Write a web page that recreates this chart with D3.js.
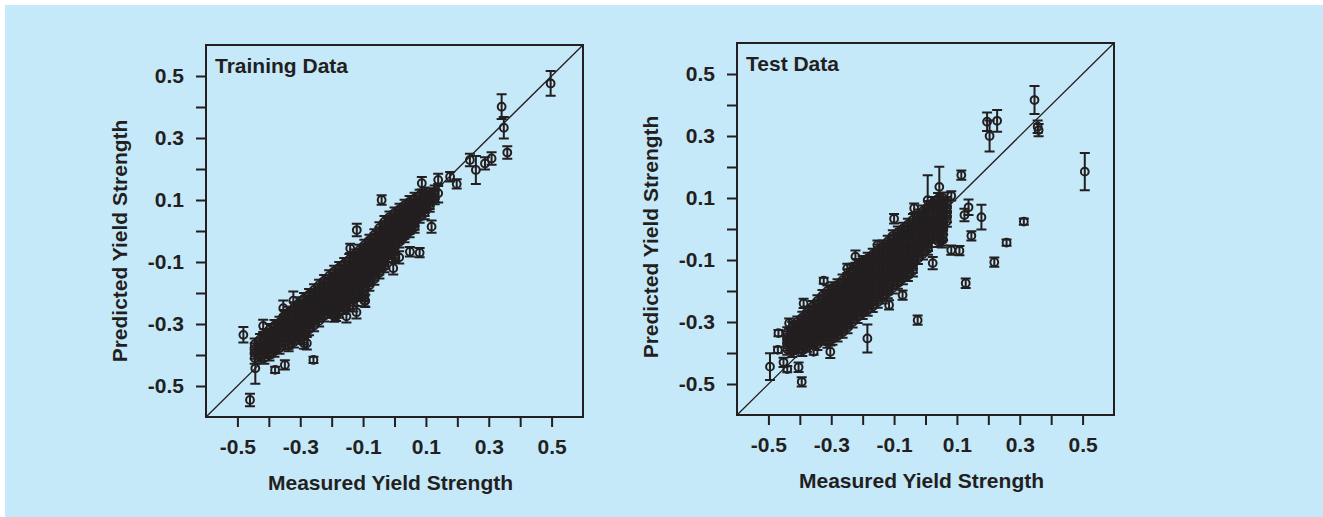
<!DOCTYPE html>
<html><head><meta charset="utf-8">
<script src="https://cdn.jsdelivr.net/npm/d3@7"></script>
<style>html,body{margin:0;padding:0;background:#fff;}svg{display:block;}</style>
</head><body>
<svg id="chart" width="1323" height="517"></svg>
<script>
// ---------------- data ----------------
const panelTitles = ["Training Data", "Test Data"];
const xAxisTitle = "Measured Yield Strength";
const yAxisTitle = "Predicted Yield Strength";
const axisDomain = [-0.6, 0.6];
const tickValues = [-0.5,-0.4,-0.3,-0.2,-0.1,0,0.1,0.2,0.3,0.4,0.5];
const labeledTicks = [-0.5,-0.3,-0.1,0.1,0.3,0.5];
const tickLabels = ["-0.5","-0.3","-0.1","0.1","0.3","0.5"];

// dense cloud, read column by column: [measured, error, [predicted values]]
const trainCloud = [
[-0.445,0.018,[-0.365,-0.38,-0.394,-0.41]],
[-0.428,0.018,[-0.35,-0.364,-0.378,-0.391,-0.404]],
[-0.414,0.018,[-0.335,-0.349,-0.364,-0.378,-0.392,-0.41]],
[-0.398,0.018,[-0.318,-0.333,-0.347,-0.361,-0.375,-0.39,-0.40]],
[-0.382,0.018,[-0.305,-0.319,-0.333,-0.347,-0.361,-0.375,-0.388]],
[-0.366,0.018,[-0.295,-0.308,-0.322,-0.336,-0.350,-0.364,-0.378]],
[-0.352,0.02,[-0.275,-0.290,-0.304,-0.318,-0.333,-0.347,-0.362]],
[-0.337,0.018,[-0.262,-0.276,-0.290,-0.305,-0.319,-0.333,-0.348,-0.362,-0.370]],
[-0.320,0.018,[-0.248,-0.262,-0.276,-0.290,-0.305,-0.319,-0.333,-0.346,-0.358]],
[-0.304,0.018,[-0.232,-0.247,-0.261,-0.275,-0.289,-0.303,-0.318,-0.332,-0.345]],
[-0.288,0.018,[-0.218,-0.232,-0.246,-0.260,-0.275,-0.289,-0.303,-0.318,-0.333,-0.348,-0.362]],
[-0.272,0.018,[-0.205,-0.219,-0.233,-0.247,-0.262,-0.276,-0.290,-0.304,-0.318]],
[-0.256,0.018,[-0.190,-0.204,-0.218,-0.233,-0.247,-0.261,-0.276,-0.290,-0.305]],
[-0.240,0.018,[-0.175,-0.189,-0.204,-0.218,-0.232,-0.246,-0.261,-0.275,-0.290]],
[-0.224,0.018,[-0.160,-0.174,-0.188,-0.203,-0.217,-0.231,-0.246,-0.260,-0.274]],
[-0.208,0.018,[-0.145,-0.160,-0.174,-0.188,-0.203,-0.217,-0.232,-0.247,-0.262]],
[-0.192,0.018,[-0.130,-0.145,-0.159,-0.173,-0.188,-0.203,-0.218,-0.233,-0.248,-0.262,-0.275]],
[-0.176,0.018,[-0.118,-0.132,-0.146,-0.160,-0.175,-0.190,-0.204,-0.218,-0.233,-0.248,-0.262]],
[-0.160,0.018,[-0.105,-0.119,-0.133,-0.148,-0.162,-0.176,-0.191,-0.205,-0.220,-0.235,-0.250]],
[-0.144,0.018,[-0.092,-0.106,-0.120,-0.134,-0.149,-0.163,-0.178,-0.192,-0.207,-0.222,-0.240]],
[-0.128,0.018,[-0.078,-0.092,-0.106,-0.121,-0.135,-0.150,-0.164,-0.178,-0.193,-0.208,-0.222]],
[-0.112,0.018,[-0.062,-0.076,-0.090,-0.105,-0.119,-0.134,-0.148,-0.163,-0.178,-0.193,-0.208]],
[-0.096,0.018,[-0.046,-0.060,-0.074,-0.089,-0.103,-0.118,-0.132,-0.147,-0.162,-0.177,-0.192,-0.208,-0.225]],
[-0.080,0.018,[-0.030,-0.044,-0.058,-0.073,-0.087,-0.102,-0.116,-0.131,-0.146,-0.160,-0.175]],
[-0.064,0.018,[-0.012,-0.026,-0.040,-0.055,-0.070,-0.084,-0.099,-0.113,-0.128,-0.142,-0.155]],
[-0.048,0.018,[0.010,-0.006,-0.022,-0.037,-0.052,-0.066,-0.081,-0.095,-0.110,-0.122,-0.135]],
[-0.032,0.018,[0.030,0.015,0.000,-0.016,-0.032,-0.047,-0.062,-0.077,-0.092,-0.104,-0.115]],
[-0.016,0.018,[0.045,0.031,0.018,0.003,-0.012,-0.027,-0.042,-0.057,-0.072]],
[0.000,0.018,[0.058,0.045,0.032,0.018,0.004,-0.010,-0.025,-0.039,-0.052,-0.068,-0.085]],
[0.016,0.018,[0.070,0.057,0.045,0.031,0.018,0.004,-0.010,-0.022,-0.035]],
[0.032,0.018,[0.083,0.070,0.058,0.045,0.032,0.018,0.005,-0.007,-0.018]],
[0.048,0.018,[0.095,0.082,0.070,0.057,0.045,0.032,0.020,0.008,-0.002]],
[0.064,0.018,[0.105,0.093,0.082,0.070,0.058,0.046,0.034,0.022,0.012]],
[0.080,0.018,[0.115,0.103,0.092,0.080,0.068,0.056,0.045]],
[0.096,0.02,[0.120,0.109,0.098,0.088,0.078,0.068,0.058]],
[0.112,0.018,[0.118,0.108,0.098,0.089,0.080]],
[0.128,0.022,[0.125,0.116,0.108]]
];

// individual points: [measured, predicted, error]
const trainPoints = [
[-0.443,-0.443,0.05],[-0.418,-0.306,0.02],[-0.354,-0.249,0.025],[-0.322,-0.225,0.03],
[-0.279,-0.362,0.02],[-0.186,-0.275,0.015],[-0.153,-0.275,0.02],[-0.131,-0.240,0.02],
[-0.121,-0.262,0.02],[-0.093,-0.225,0.02],[0.015,-0.085,0.02],
[-0.481,-0.335,0.025],[-0.460,-0.545,0.02],[-0.380,-0.448,0.01],[-0.349,-0.432,0.015],
[-0.258,-0.416,0.01],[-0.120,0.003,0.02],[-0.041,0.100,0.015],[-0.141,-0.056,0.015],
[-0.004,-0.120,0.02],[0.049,-0.067,0.015],[0.080,-0.070,0.015],[0.118,0.014,0.02],
[0.087,0.154,0.02],[0.139,0.165,0.02],[0.139,0.122,0.03],[0.177,0.175,0.015],
[0.198,0.152,0.015],[0.240,0.229,0.02],[0.259,0.197,0.045],[0.288,0.218,0.02],
[0.309,0.234,0.02],[0.341,0.401,0.04],[0.348,0.333,0.035],[0.359,0.253,0.02],
[0.497,0.476,0.04]
];

const testCloud = [
[-0.440,0.018,[-0.335,-0.349,-0.362,-0.375,-0.388]],
[-0.424,0.018,[-0.318,-0.332,-0.345,-0.358,-0.372,-0.385,-0.395]],
[-0.408,0.018,[-0.300,-0.314,-0.328,-0.341,-0.355,-0.368,-0.382]],
[-0.392,0.018,[-0.285,-0.299,-0.312,-0.326,-0.340,-0.353,-0.367,-0.380,-0.392]],
[-0.376,0.018,[-0.268,-0.282,-0.296,-0.310,-0.324,-0.338,-0.352,-0.365,-0.378]],
[-0.360,0.018,[-0.250,-0.264,-0.278,-0.292,-0.306,-0.320,-0.334,-0.348,-0.362]],
[-0.344,0.018,[-0.232,-0.246,-0.260,-0.274,-0.288,-0.302,-0.316,-0.330,-0.345,-0.358,-0.372]],
[-0.328,0.018,[-0.215,-0.229,-0.243,-0.257,-0.271,-0.286,-0.300,-0.314,-0.328,-0.342,-0.355]],
[-0.312,0.018,[-0.200,-0.214,-0.228,-0.242,-0.256,-0.270,-0.284,-0.298,-0.312,-0.326,-0.340,-0.352,-0.365]],
[-0.296,0.018,[-0.190,-0.204,-0.218,-0.232,-0.246,-0.260,-0.274,-0.288,-0.302,-0.316,-0.330,-0.343,-0.355]],
[-0.280,0.018,[-0.180,-0.194,-0.207,-0.221,-0.235,-0.249,-0.263,-0.277,-0.291,-0.305,-0.320,-0.333,-0.345]],
[-0.264,0.018,[-0.165,-0.179,-0.193,-0.207,-0.221,-0.235,-0.249,-0.263,-0.277,-0.291,-0.306,-0.320,-0.333]],
[-0.248,0.018,[-0.148,-0.162,-0.176,-0.190,-0.204,-0.218,-0.232,-0.246,-0.260,-0.275,-0.290,-0.304,-0.318]],
[-0.232,0.018,[-0.130,-0.144,-0.158,-0.172,-0.186,-0.200,-0.214,-0.228,-0.242,-0.257,-0.272,-0.286,-0.300]],
[-0.216,0.018,[-0.115,-0.129,-0.143,-0.157,-0.171,-0.185,-0.199,-0.213,-0.227,-0.241,-0.256,-0.270,-0.285]],
[-0.200,0.018,[-0.105,-0.119,-0.133,-0.147,-0.161,-0.175,-0.189,-0.203,-0.217,-0.231,-0.245,-0.258,-0.272]],
[-0.184,0.018,[-0.095,-0.109,-0.123,-0.137,-0.151,-0.165,-0.179,-0.193,-0.207,-0.221,-0.235,-0.248,-0.262]],
[-0.168,0.018,[-0.082,-0.096,-0.110,-0.124,-0.138,-0.152,-0.166,-0.180,-0.194,-0.208,-0.222,-0.236,-0.250]],
[-0.152,0.018,[-0.068,-0.082,-0.096,-0.110,-0.124,-0.138,-0.152,-0.166,-0.180,-0.194,-0.208,-0.222,-0.236]],
[-0.136,0.018,[-0.055,-0.069,-0.083,-0.097,-0.111,-0.125,-0.139,-0.153,-0.167,-0.181,-0.195,-0.209,-0.222]],
[-0.120,0.018,[-0.040,-0.054,-0.068,-0.082,-0.096,-0.110,-0.124,-0.138,-0.152,-0.166,-0.180,-0.193,-0.205]],
[-0.104,0.018,[-0.022,-0.036,-0.050,-0.064,-0.078,-0.092,-0.106,-0.120,-0.134,-0.148,-0.162,-0.176,-0.190]],
[-0.088,0.018,[-0.010,-0.024,-0.038,-0.052,-0.066,-0.080,-0.094,-0.108,-0.122,-0.136,-0.150,-0.163,-0.175]],
[-0.072,0.018,[0.002,-0.012,-0.026,-0.040,-0.054,-0.068,-0.082,-0.096,-0.110,-0.124,-0.138,-0.150,-0.160]],
[-0.056,0.018,[0.015,0.001,-0.013,-0.027,-0.041,-0.055,-0.069,-0.083,-0.097,-0.111,-0.125,-0.138,-0.150]],
[-0.040,0.018,[0.030,0.016,0.002,-0.012,-0.026,-0.040,-0.054,-0.068,-0.082,-0.096,-0.110,-0.123,-0.135]],
[-0.024,0.018,[0.045,0.031,0.017,0.003,-0.011,-0.025,-0.039,-0.053,-0.067,-0.081,-0.095]],
[-0.008,0.018,[0.058,0.044,0.030,0.016,0.002,-0.012,-0.026,-0.040,-0.054,-0.067,-0.080]],
[0.008,0.018,[0.072,0.058,0.044,0.030,0.016,0.002,-0.012,-0.026,-0.040,-0.053,-0.065]],
[0.024,0.018,[0.085,0.071,0.057,0.043,0.030,0.016,0.002,-0.012,-0.025]],
[0.040,0.018,[0.098,0.084,0.070,0.056,0.043,0.030,0.016,0.002,-0.012,-0.026,-0.040]],
[0.056,0.018,[0.100,0.087,0.075,0.062,0.050,0.037,0.025,0.012,0.000,-0.018,-0.035]],
[0.068,0.018,[0.085,0.070,0.055,0.040,0.025]]
];

const testPoints = [
[-0.495,-0.444,0.043],[-0.468,-0.336,0.01],[-0.470,-0.390,0.01],[-0.452,-0.430,0.015],
[-0.440,-0.452,0.01],[-0.434,-0.304,0.015],[-0.404,-0.446,0.015],[-0.394,-0.493,0.015],
[-0.356,-0.396,0.01],[-0.324,-0.167,0.01],[-0.388,-0.240,0.015],[-0.303,-0.396,0.02],
[-0.249,-0.127,0.015],[-0.223,-0.089,0.02],[-0.185,-0.353,0.045],[-0.153,-0.052,0.015],
[-0.116,-0.245,0.015],[-0.100,0.033,0.015],[-0.073,-0.213,0.015],[-0.036,0.067,0.015],
[-0.025,-0.294,0.015],[0.007,0.093,0.08],[0.044,0.136,0.065],[0.023,-0.110,0.02],
[0.050,0.000,0.04],[0.052,-0.035,0.025],
[0.082,0.107,0.015],[0.114,0.174,0.015],[0.124,0.045,0.02],[0.137,0.070,0.025],
[0.146,-0.022,0.015],[0.082,-0.068,0.015],[0.108,-0.070,0.015],[0.128,-0.175,0.015],
[0.178,0.038,0.04],[0.196,0.346,0.03],[0.204,0.300,0.05],[0.228,0.349,0.035],
[0.219,-0.107,0.015],[0.258,-0.044,0.01],[0.313,0.024,0.01],[0.347,0.416,0.045],
[0.357,0.330,0.02],[0.360,0.319,0.02],[0.507,0.185,0.06]
];

// ---------------- drawing ----------------
const INK = "#231f20";
const FONT = "'Liberation Sans', Arial, Helvetica, sans-serif";
const svg = d3.select("#chart");
svg.append("rect").attr("x",0).attr("y",0).attr("width",1323).attr("height",517).attr("fill","#ffffff");
svg.append("rect").attr("x",5).attr("y",5).attr("width",1318).attr("height",512).attr("fill","#c6e9f9");

function flatten(cloud, singles){
  const out = [];
  cloud.forEach(([mx, err, ys]) => ys.forEach(py => out.push([mx, py, err])));
  return out.concat(singles);
}

const panels = [
  {title: panelTitles[0], data: flatten(trainCloud, trainPoints), left:206, right:583, top:45, bottom:417, yTitleX:127, yTitleDy:10, xTitleY:490},
  {title: panelTitles[1], data: flatten(testCloud, testPoints), left:737, right:1114, top:43, bottom:415, yTitleX:658, yTitleDy:8, xTitleY:488}
];

function fmt(d){
  const i = labeledTicks.findIndex(v => Math.abs(v - d) < 1e-9);
  return i >= 0 ? tickLabels[i] : "";
}

panels.forEach(p => {
  const x = d3.scaleLinear().domain(axisDomain).range([p.left, p.right]);
  const y = d3.scaleLinear().domain(axisDomain).range([p.bottom, p.top]);
  const g = svg.append("g");

  g.append("line")
    .attr("x1", x(axisDomain[0])).attr("y1", y(axisDomain[0]))
    .attr("x2", x(axisDomain[1])).attr("y2", y(axisDomain[1]))
    .attr("stroke", INK).attr("stroke-width", 1.3);

  const pts = g.append("g");
  const cap = 5;
  p.data.forEach(d => {
    const cx = x(d[0]), cy = y(d[1]);
    const yt = y(d[1] + d[2]), yb = y(d[1] - d[2]);
    pts.append("path")
      .attr("d", `M${cx},${yt}V${yb}M${cx-cap},${yt}H${cx+cap}M${cx-cap},${yb}H${cx+cap}`)
      .attr("fill","none").attr("stroke",INK).attr("stroke-width",2);
    pts.append("circle").attr("cx",cx).attr("cy",cy).attr("r",3.9)
      .attr("fill","none").attr("stroke",INK).attr("stroke-width",2);
  });

  const xa = g.append("g").attr("transform", `translate(0,${p.bottom})`)
    .call(d3.axisBottom(x).tickValues(tickValues).tickFormat(fmt).tickSize(10).tickSizeOuter(0).tickPadding(12));
  const ya = g.append("g").attr("transform", `translate(${p.left},0)`)
    .call(d3.axisLeft(y).tickValues(tickValues).tickFormat(fmt).tickSize(10).tickSizeOuter(0).tickPadding(12));
  [xa, ya].forEach(a => {
    a.select(".domain").remove();
    a.selectAll(".tick line").attr("stroke", INK).attr("stroke-width", 2);
    a.selectAll(".tick text").attr("fill", INK).style("font-family", FONT)
      .style("font-size", "21px").style("font-weight", "bold");
  });

  g.append("rect").attr("x", p.left).attr("y", p.top)
    .attr("width", p.right - p.left).attr("height", p.bottom - p.top)
    .attr("fill", "none").attr("stroke", INK).attr("stroke-width", 2);

  g.append("text").attr("x", p.left + 9).attr("y", p.top + 28)
    .text(p.title).attr("fill", INK).style("font-family", FONT)
    .style("font-size", "21px").style("font-weight", "bold");

  g.append("text").attr("x", (p.left + p.right) / 2 - 4).attr("y", p.xTitleY)
    .attr("text-anchor", "middle").text(xAxisTitle).attr("fill", INK)
    .style("font-family", FONT).style("font-size", "21px").style("font-weight", "bold");
  const cyMid = (p.top + p.bottom) / 2 + p.yTitleDy;
  g.append("text").attr("transform", `translate(${p.yTitleX},${cyMid}) rotate(-90)`)
    .attr("text-anchor", "middle").text(yAxisTitle).attr("fill", INK)
    .style("font-family", FONT).style("font-size", "21px").style("font-weight", "bold");
});
</script>
</body></html>
